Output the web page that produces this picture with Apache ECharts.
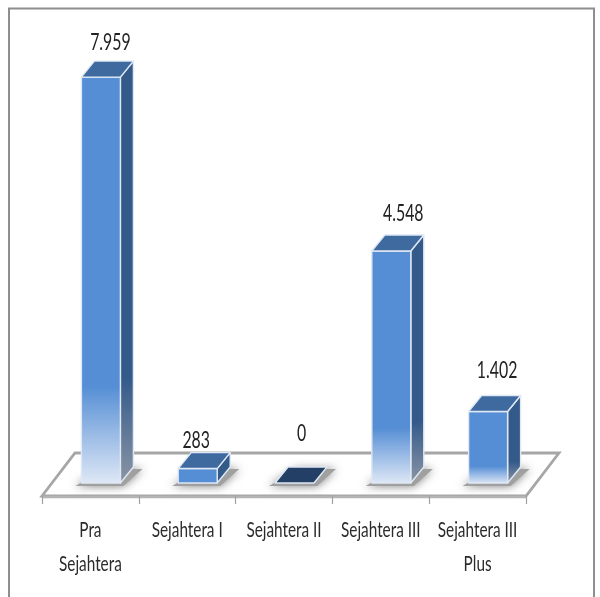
<!DOCTYPE html>
<html><head><meta charset="utf-8">
<style>html,body{margin:0;padding:0;background:#fff}#c{width:600px;height:597px}</style>
<script src="https://cdn.jsdelivr.net/npm/echarts@6/dist/echarts.min.js"></script>
</head><body><div id="c"></div>
<script>
const categories = ['Pra\nSejahtera', 'Sejahtera I', 'Sejahtera II', 'Sejahtera III', 'Sejahtera III\nPlus'];
const values = [7959, 283, 0, 4548, 1402];

const FONT = 'Lato,"Liberation Sans",sans-serif';
const DX = 13, DY = -16, LIFT = 13, SHIFT = 10.5, BAR_W = 39;
const FLOOR_DX = 33, FLOOR_DY = -43;
const LABEL_NUDGE = [[9.5, -19], [-1.5, -12], [7, -34], [12, -22], [9, -25]];

function fmt(v) { return String(v).replace(/\B(?=(\d{3})+(?!\d))/g, '.'); }

function lin(stops) {
  return { type: 'linear', x: 0, y: 0, x2: 0, y2: 1, colorStops: stops };
}

function squeezedText(x, y, text, size, color, lineHeight, vAlign, squeeze) {
  return {
    type: 'text', x: x, y: y, scaleX: squeeze, scaleY: 1,
    style: { x: 0, y: 0, text: text, align: 'center', verticalAlign: vAlign,
      font: size + 'px ' + FONT, fill: color, lineHeight: lineHeight }
  };
}

function renderFloor(params) {
  const c = params.coordSys;
  const x0 = c.x, x1 = c.x + c.width, y = c.y + c.height;
  return {
    type: 'group', silent: true, children: [
      { type: 'polygon',
        shape: { points: [[x0, y], [x0 + FLOOR_DX, y + FLOOR_DY], [x1 + FLOOR_DX, y + FLOOR_DY], [x1, y]] },
        style: { fill: '#ffffff', stroke: '#a6a6a6', lineWidth: 2.8, lineJoin: 'miter' } },
      { type: 'line', shape: { x1: x0, y1: y + 1, x2: x1, y2: y + 1 },
        style: { stroke: '#b4b4b4', lineWidth: 2.5 } }
    ]
  };
}

function renderShadow(params, api) {
  const p = api.coord([api.value(0), 0]);
  const l = p[0] + SHIFT - BAR_W / 2, r = l + BAR_W, b = p[1] - LIFT;
  return {
    type: 'polygon', silent: true,
    shape: { points: [[l - 6, b + 3], [r + 3, b + 3], [r + DX + 9, b + DY + 2], [l + DX + 9, b + DY + 2]] },
    style: { fill: '#a0a0a0', shadowBlur: 10, shadowColor: 'rgba(110,110,110,0.9)' }
  };
}

function renderBar(params, api) {
  const v = api.value(1);
  const base = api.coord([api.value(0), 0]);
  const top = api.coord([api.value(0), v]);
  const i = params.dataIndex;
  const l = base[0] + SHIFT - BAR_W / 2, r = l + BAR_W;
  const b = base[1] - LIFT, t = top[1] - LIFT;
  const edge = { stroke: '#dfe8f3', lineWidth: 1.4, lineJoin: 'round' };
  const kids = [];
  const tall = b - t > 40;
  if (v > 0) {
    kids.push({ type: 'polygon',
      shape: { points: [[r, t], [r + DX, t + DY], [r + DX, b + DY], [r, b]] },
      style: Object.assign({ fill: tall ? lin([{ offset: 0, color: '#345a8a' }, { offset: 0.75, color: '#345a8a' }, { offset: 1, color: '#8b95a5' }]) : '#345a8a' }, edge) });
    kids.push({ type: 'rect',
      shape: { x: l, y: t, width: BAR_W, height: b - t },
      style: Object.assign({ fill: tall ? lin([{ offset: 0, color: '#558ed5' }, { offset: 0.76, color: '#558ed5' }, { offset: 1, color: '#dfe8f6' }]) : '#558ed5' }, edge) });
  }
  kids.push({ type: 'polygon',
    shape: { points: [[l, t], [l + DX, t + DY], [r + DX, t + DY], [r, t]] },
    style: Object.assign({ fill: v > 0 ? '#3f6aa0' : '#233f66' }, edge) });
  kids.push(squeezedText((l + r) / 2 + LABEL_NUDGE[i][0], t + DY + LABEL_NUDGE[i][1], fmt(v), 24, '#222222', 26, 'middle', 0.66));
  return { type: 'group', children: kids };
}

function renderCategoryLabel(params, api) {
  const p = api.coord([api.value(0), 0]);
  return squeezedText(p[0], p[1] + 17, categories[params.dataIndex], 21, '#2b2b2b', 34, 'top', 0.73);
}

const data = categories.map((c, i) => [i, values[i]]);
const chart = echarts.init(document.getElementById('c'), null, { renderer: 'canvas' });
chart.setOption({
  animation: false,
  backgroundColor: '#ffffff',
  graphic: [{
    type: 'polyline', silent: true, z: 100,
    shape: { points: [[9, 597], [9, 8.5], [594, 8.5], [594, 597]] },
    style: { fill: null, stroke: '#8e8e8e', lineWidth: 2 }
  }],
  grid: { left: 42, right: 74, top: 37, bottom: 101, containLabel: false },
  xAxis: {
    type: 'category', data: categories, boundaryGap: true,
    axisLine: { show: false },
    axisTick: { show: true, alignWithLabel: false, length: 8, lineStyle: { color: '#a0a0a0', width: 1.2 } },
    axisLabel: { show: false },
    z: 6
  },
  yAxis: { type: 'value', min: 0, max: 9000, show: false, splitLine: { show: false } },
  series: [
    { type: 'custom', coordinateSystem: 'cartesian2d', data: [[0, 0]], renderItem: renderFloor, z: 1, silent: true, clip: false },
    { type: 'custom', coordinateSystem: 'cartesian2d', data: data, renderItem: renderShadow, z: 2, silent: true, clip: false },
    { type: 'custom', coordinateSystem: 'cartesian2d', data: data, renderItem: renderBar, z: 3, clip: false },
    { type: 'custom', coordinateSystem: 'cartesian2d', data: data, renderItem: renderCategoryLabel, z: 4, silent: true, clip: false }
  ]
});
</script></body></html>
